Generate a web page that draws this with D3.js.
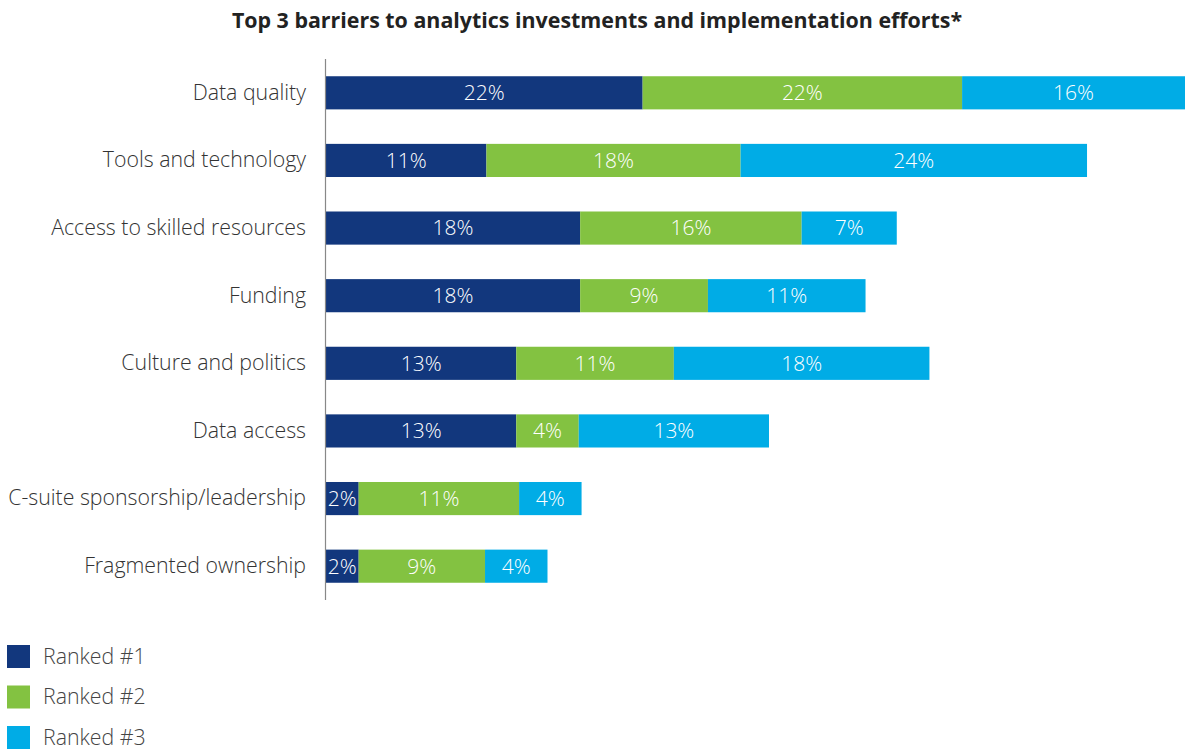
<!DOCTYPE html>
<html>
<head>
<meta charset="utf-8">
<script src="https://cdn.jsdelivr.net/npm/d3@7"></script>
<style>
  html, body { margin: 0; padding: 0; background: #fff; }
  svg { display: block; font-family: "Open Sans", sans-serif; }
</style>
</head>
<body>
<svg id="chart" width="1187" height="751"></svg>
<script>
const categories = [
  "Data quality",
  "Tools and technology",
  "Access to skilled resources",
  "Funding",
  "Culture and politics",
  "Data access",
  "C-suite sponsorship/leadership",
  "Fragmented ownership"
];
const seriesNames = ["Ranked #1", "Ranked #2", "Ranked #3"];
const ranked1 = [22.3, 11.3, 17.9, 17.9, 13.4, 13.4, 2.3, 2.3];
const ranked2 = [22.5, 17.9, 15.6, 9.0, 11.1, 4.4, 11.3, 8.9];
const ranked3 = [15.7, 24.4, 6.7, 11.1, 18.0, 13.4, 4.4, 4.4];
const colors = ["#12377d", "#83c241", "#00ace6"];
const title = "Top 3 barriers to analytics investments and implementation efforts*";

(function () {
const svg = d3.select("#chart");
const mLeft = 326, mRight = 1185, mTop = 59, mBottom = 600;

const rows = categories.map((c, i) => ({ cat: c, v: [ranked1[i], ranked2[i], ranked3[i]] }));
const stack = d3.stack().keys([0, 1, 2]).value((d, k) => d.v[k]);
const layers = stack(rows);

const maxTotal = d3.max(rows, d => d3.sum(d.v));
const x = d3.scaleLinear().domain([0, maxTotal]).range([mLeft, mRight]);
const y = d3.scaleBand().domain(categories).range([mTop, mBottom]).paddingInner(0.51).paddingOuter(0.255);

svg.append("text")
  .attr("x", 597).attr("y", 28)
  .attr("text-anchor", "middle")
  .attr("font-weight", 700)
  .attr("font-size", 21.4)
  .attr("fill", "#222")
  .text(title);

const g = svg.append("g");
layers.forEach((layer, k) => {
  const lg = g.append("g");
  lg.selectAll("rect").data(layer).join("rect")
    .attr("x", d => x(d[0]))
    .attr("y", d => y(d.data.cat))
    .attr("width", d => x(d[1]) - x(d[0]))
    .attr("height", y.bandwidth())
    .attr("fill", colors[k]);
  lg.selectAll("text").data(layer).join("text")
    .attr("x", d => (x(d[0]) + x(d[1])) / 2)
    .attr("y", d => y(d.data.cat) + y.bandwidth() / 2)
    .attr("dy", "0.35em")
    .attr("text-anchor", "middle")
    .attr("font-size", 21)
    .attr("font-weight", 300)
    .attr("fill", "#fff")
    .text(d => Math.round(d[1] - d[0]) + "%");
});

const yAxis = d3.axisLeft(y).tickSize(0).tickPadding(20);
const ya = svg.append("g").attr("transform", `translate(${mLeft},0)`).call(yAxis);
ya.select(".domain").remove();
ya.selectAll("text")
  .attr("font-size", 21.3)
  .attr("font-weight", 300)
  .attr("font-family", "'Open Sans', sans-serif")
  .attr("fill", "#333");

svg.append("line")
  .attr("x1", mLeft - 0.5).attr("x2", mLeft - 0.5)
  .attr("y1", mTop).attr("y2", mBottom)
  .attr("stroke", "#888").attr("stroke-width", 1.2);

const legend = svg.append("g");
seriesNames.forEach((n, k) => {
  const ly = 645 + k * 40.5;
  legend.append("rect").attr("x", 7).attr("y", ly).attr("width", 23).attr("height", 23).attr("fill", colors[k]);
  legend.append("text").attr("x", 43).attr("y", ly + 11.5).attr("dy", "0.35em")
    .attr("font-size", 21.3).attr("font-weight", 300).attr("fill", "#444").text(n);
});
})();
</script>
</body>
</html>
